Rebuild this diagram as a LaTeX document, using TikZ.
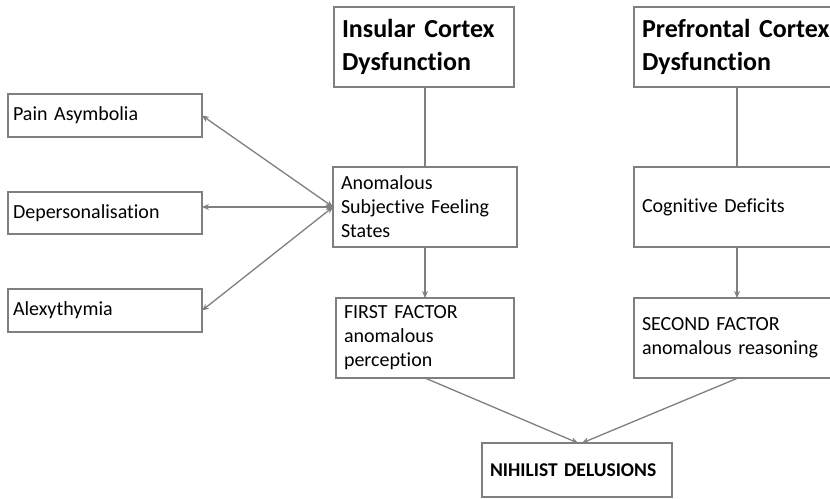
\documentclass[tikz,border=0pt]{standalone}
\usepackage{fontspec}
\setmainfont{Carlito}[Ligatures=NoCommon]
\usetikzlibrary{arrows.meta}
\definecolor{edgegray}{RGB}{127,127,127}
\tikzset{
  box/.style={draw=edgegray, line width=1.2pt, rectangle, anchor=north west, inner xsep=8pt, inner ysep=0pt, outer sep=0pt, align=left, font=\fontsize{20}{24}\selectfont},
  sidebox/.style={box, inner xsep=5pt},
  titlebox/.style={box, font=\bfseries\fontsize{26}{33}\selectfont},
  conn/.style={draw=edgegray, line width=1.3pt},
  arr/.style={conn, -{Stealth[length=7pt,width=6pt]}},
  darr/.style={conn, {Stealth[length=7pt,width=6pt]}-{Stealth[length=7pt,width=6pt]}},
}
\begin{document}
\begin{tikzpicture}[x=1pt,y=-1pt]
\useasboundingbox (0,0) rectangle (830,498);
\clip (0,0) rectangle (830,498);
\node[titlebox, text width=164pt, minimum height=80pt] (ins) at (334,7) {Insular Cortex\\Dysfunction};
\node[titlebox, text width=224pt, minimum height=80pt] (pre) at (634,7) {Prefrontal Cortex\\Dysfunction};
\node[box, text width=168pt, minimum height=80pt] (asf) at (333,167) {Anomalous\\Subjective Feeling\\States};
\node[box, text width=162pt, minimum height=80pt] (ff) at (336,298) {FIRST FACTOR\\anomalous\\perception};
\node[box, text width=224pt, minimum height=80pt] (cd) at (634,167) {Cognitive Deficits};
\node[box, text width=224pt, minimum height=80pt] (sf) at (634,298) {SECOND FACTOR\\anomalous reasoning};
\node[box, font=\bfseries\fontsize{19.5}{24}\selectfont, text width=174pt, minimum height=54pt] (nih) at (482,443) {NIHILIST DELUSIONS};
\node[sidebox, text width=184pt, minimum height=43pt] (pain) at (8,94) {Pain Asymbolia};
\node[sidebox, text width=184pt, minimum height=42pt] (dep) at (8,192) {Depersonalisation};
\node[sidebox, text width=184pt, minimum height=43pt] (alex) at (8,289) {Alexythymia};

\draw[conn] (ins.south -| asf.north) -- (asf.north);
\draw[arr] (asf.south) -- (asf.south |- ff.north);
\draw[conn] ([xshift=103pt]pre.south west) -- ([xshift=103pt]cd.north west);
\draw[arr] ([xshift=103pt]cd.south west) -- ([xshift=103pt]sf.north west);
\draw[arr] (ff.south) -- ([xshift=96pt]nih.north west);
\draw[arr] ([xshift=104pt]sf.south west) -- ([xshift=100pt]nih.north west);
\draw[darr] (pain.east) -- (asf.west);
\draw[darr] (dep.east |- asf.west) -- (asf.west);
\draw[darr] (alex.east) -- (asf.west);
\end{tikzpicture}
\end{document}
